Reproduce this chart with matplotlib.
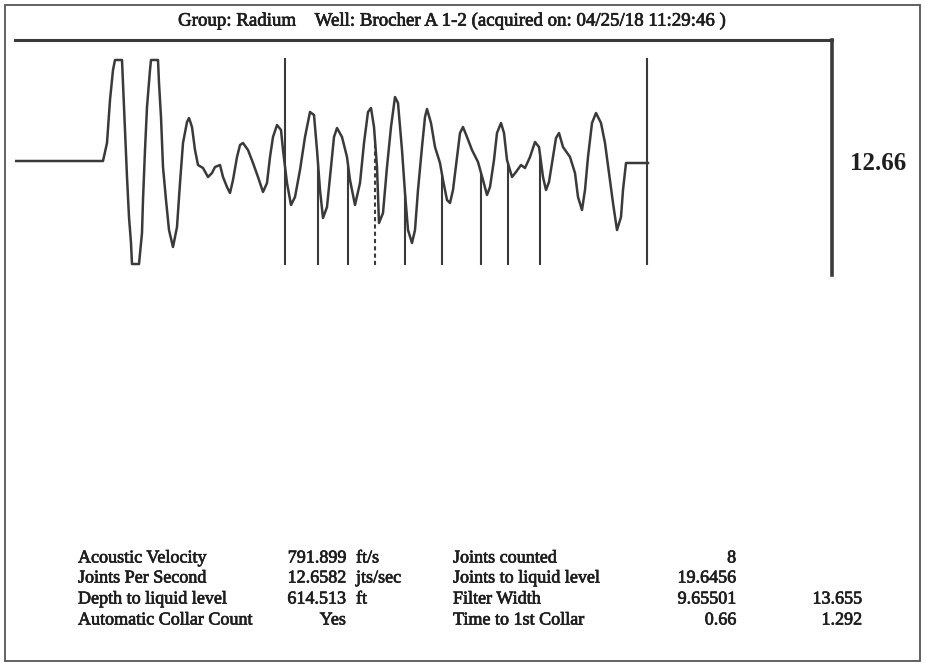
import numpy as np
import matplotlib
matplotlib.use("Agg")
import matplotlib.pyplot as plt
import matplotlib.patheffects as pe
from matplotlib.patches import Rectangle

# acoustic trace (time in samples, amplitude in counts)
trace_t = [0, 88, 92, 95, 98, 100, 107, 108, 110, 112, 114, 116, 117, 124, 127, 128,
           130, 132, 135, 136, 143, 144, 146, 148, 151, 154, 158, 162, 165, 168, 172,
           174, 177, 180, 183, 188, 193, 197, 200, 205, 208, 212, 215, 218, 222, 225,
           228, 233, 238, 243, 248, 252, 255, 258, 262, 266, 268, 272, 276, 280, 285,
           290, 295, 299, 302, 305, 308, 312, 316, 319, 322, 327, 332, 335, 340, 345,
           349, 353, 356, 359, 362, 364, 368, 372, 376, 380, 383, 387, 390, 393, 397,
           400, 403, 407, 410, 412, 416, 420, 425, 428, 432, 435, 438, 442, 445, 448,
           452, 457, 463, 468, 472, 475, 479, 482, 486, 489, 492, 497, 501, 506, 510,
           515, 520, 524, 528, 531, 534, 538, 541, 544, 548, 555, 560, 563, 567, 570,
           573, 577, 581, 586, 590, 594, 598, 602, 606, 608, 611, 633]
trace_amp = [0, 0, 18, 61, 91, 101, 101, 78, 31, -16, -56, -82, -103, -103, -72, -39,
             11, 54, 91, 101, 101, 78, 44, -6, -39, -69, -86, -66, -22, 18, 39,
             43, 34, 11, -4, -7, -16, -12, -6, -4, -16, -26, -32, -19, 4, 16,
             18, 11, -2, -16, -31, -22, 4, 24, 36, 31, 11, -22, -44, -36, -9,
             24, 49, 46, 11, -29, -57, -46, -6, 24, 33, 24, 4, -19, -44, -22,
             18, 49, 53, 34, -6, -62, -52, -6, 34, 64, 58, 11, -32, -69, -82,
             -69, -29, 14, 44, 52, 38, 14, -2, -19, -39, -42, -29, 4, 28, 34,
             24, 11, -1, -19, -34, -26, 1, 28, 38, 28, 1, -16, -11, -4, -7,
             4, 19, 14, -16, -29, -21, 4, 23, 28, 14, 4, -12, -36, -49, -29,
             4, 38, 48, 38, 18, -12, -42, -69, -56, -29, -2, -2]

collar_t = [270, 303, 333, 360, 390, 427, 466, 493, 525, 632]
collar_full = [True, False, False, False, False, False, False, False, False, True]
collar_dashed = [False, False, False, True, False, False, False, False, False, False]

clip_top = 101
clip_bottom = -103

title = "Group: Radium    Well: Brocher A 1-2 (acquired on: 04/25/18 11:29:46 )"
jps_label = "12.66"

left_labels = ["Acoustic Velocity", "Joints Per Second", "Depth to liquid level",
               "Automatic Collar Count"]
left_values = ["791.899", "12.6582", "614.513", "Yes"]
left_units = ["ft/s", "jts/sec", "ft", ""]
right_labels = ["Joints counted", "Joints to liquid level", "Filter Width",
                "Time to 1st Collar"]
right_values = ["8", "19.6456", "9.65501", "0.66"]
right_extra = ["", "", "13.655", "1.292"]

W, H = 925, 663
ink = "#3a3a3a"
txt = "#1e1e1e"
serif = ["Liberation Serif", "DejaVu Serif"]
thick = [pe.withStroke(linewidth=0.5, foreground=txt)]

fig = plt.figure(figsize=(W / 100, H / 100), dpi=100)
fig.patch.set_facecolor("white")

def fx(px):
    return px / W

def fy(py):
    return 1 - py / H

# outer frame
fig.add_artist(Rectangle((fx(5), fy(661)), fx(915), 656 / H, transform=fig.transFigure,
                         fill=False, edgecolor="#555555", lw=1.3))

ax = fig.add_axes([fx(15), fy(275), fx(832 - 15), (275 - 40) / H])
ax.set_xlim(0, 817)
ax.set_ylim(-114, 121)
ax.set_xticks([])
ax.set_yticks([])
ax.patch.set_alpha(0)
for s in ["left", "bottom"]:
    ax.spines[s].set_visible(False)
ax.spines["top"].set_linewidth(2.2)
ax.spines["right"].set_linewidth(2.6)
ax.spines["top"].set_color(ink)
ax.spines["right"].set_color(ink)

ax.plot(trace_t, trace_amp, color=ink, lw=1.8, solid_joinstyle="round")

for t, full, dashed in zip(collar_t, collar_full, collar_dashed):
    top = clip_top + 2 if full else float(np.interp(t, trace_t, trace_amp))
    ax.vlines(t, clip_bottom - 1, top, color=ink, lw=1.5,
              linestyles=(0, (2, 1.5)) if dashed else "solid")

fig.text(fx(452), fy(21), title, ha="center", va="center", fontsize=13.6,
         family=serif, color=txt, path_effects=thick)
fig.text(fx(850), fy(163), jps_label, ha="left", va="center", fontsize=18,
         fontweight="bold", family=serif, color=txt)

row_y = [558, 578, 599, 620]
for i, y in enumerate(row_y):
    kw = dict(va="center", fontsize=13, family=serif, color=txt, path_effects=thick)
    fig.text(fx(78), fy(y), left_labels[i], ha="left", **kw)
    fig.text(fx(346), fy(y), left_values[i], ha="right", **kw)
    fig.text(fx(356), fy(y), left_units[i], ha="left", **kw)
    fig.text(fx(453), fy(y), right_labels[i], ha="left", **kw)
    fig.text(fx(736), fy(y), right_values[i], ha="right", **kw)
    fig.text(fx(862), fy(y), right_extra[i], ha="right", **kw)

fig.savefig("out.png", dpi=100)
